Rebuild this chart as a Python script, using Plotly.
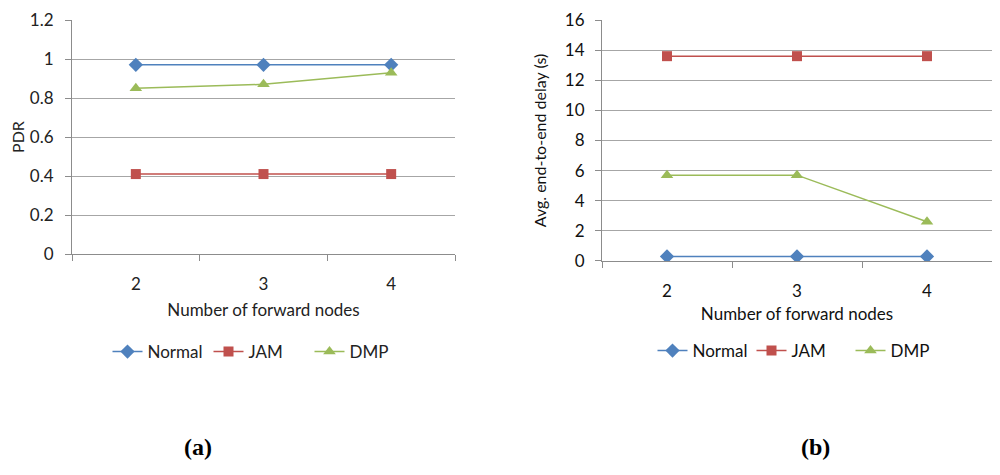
import plotly.graph_objects as go

# data
nodes = ["2", "3", "4"]
pdr_normal = [0.97, 0.97, 0.97]
pdr_jam = [0.41, 0.41, 0.41]
pdr_dmp = [0.85, 0.87, 0.93]
delay_normal = [0.3, 0.3, 0.3]
delay_jam = [13.6, 13.6, 13.6]
delay_dmp = [5.7, 5.7, 2.6]

series = ["Normal", "JAM", "DMP"]
colors = ["#4F81BD", "#C0504D", "#9BBB59"]
symbols = ["diamond", "square", "triangle-up"]
sizes = [11, 10, 11]

font = "Lato, 'Open Sans', sans-serif"
fig = go.Figure()

# left panel (a)
for name, vals, c, s, sz in zip(series, [pdr_normal, pdr_jam, pdr_dmp], colors, symbols, sizes):
    fig.add_trace(go.Scatter(x=nodes, y=vals, name=name, mode="lines+markers",
                             line=dict(color=c, width=1.5),
                             marker=dict(symbol=s, size=sz, color=c),
                             xaxis="x", yaxis="y", legend="legend"))

# right panel (b)
for name, vals, c, s, sz in zip(series, [delay_normal, delay_jam, delay_dmp], colors, symbols, sizes):
    fig.add_trace(go.Scatter(x=nodes, y=vals, name=name, mode="lines+markers",
                             line=dict(color=c, width=1.5),
                             marker=dict(symbol=s, size=sz, color=c),
                             xaxis="x2", yaxis="y2", legend="legend2"))

xcommon = dict(type="category", range=[-0.5, 2.5], showgrid=False, showline=True,
               linecolor="#8c8c8c", linewidth=1, ticks="outside", tickson="boundaries",
               ticklen=6, tickcolor="#8c8c8c", zeroline=False, automargin=False,
               ticklabelstandoff=15)
ycommon = dict(showgrid=True, gridcolor="#a6a6a6", gridwidth=1, showline=True,
               linecolor="#8c8c8c", linewidth=1, ticks="outside", ticklen=6,
               tickcolor="#8c8c8c", zeroline=False, automargin=False,
               ticklabeloverflow="allow", ticklabelstandoff=8)

# the page body adds an 8px margin, so positions below are shifted by 8px
fig.update_layout(
    width=1000, height=475,
    margin=dict(l=0, r=0, t=0, b=0),
    paper_bgcolor="white", plot_bgcolor="white",
    font=dict(family=font, size=17, color="#222222"),
    showlegend=True,
    xaxis=dict(xcommon, domain=[0.064, 0.447], anchor="y",
               title=dict(text="Number of forward nodes", standoff=10, font=dict(size=17)),
               tickfont=dict(size=17)),
    yaxis=dict(ycommon, domain=[0.4821, 0.9747], anchor="x", range=[0, 1.2], dtick=0.2,
               tickformat="~g", tickfont=dict(size=17),
               title=dict(text="PDR", standoff=17, font=dict(size=16))),
    xaxis2=dict(xcommon, domain=[0.594, 0.984], anchor="y2",
                title=dict(text="Number of forward nodes", standoff=7,
                           font=dict(size=17, color="#111111")),
                tickfont=dict(size=17, color="#111111")),
    yaxis2=dict(ycommon, domain=[0.4674, 0.9747], anchor="x2", range=[0, 16], dtick=2,
                tickfont=dict(size=17, color="#111111"), ticklabelstandoff=7,
                title=dict(text="Avg. end-to-end delay (s)", standoff=14,
                           font=dict(size=16, color="#111111"))),
    legend=dict(orientation="h", x=0.251, xanchor="center", y=0.2758, yanchor="middle",
                entrywidth=56, font=dict(size=17), bgcolor="rgba(0,0,0,0)"),
    legend2=dict(orientation="h", x=0.793, xanchor="center", y=0.2779, yanchor="middle",
                 entrywidth=54, font=dict(size=17, color="#111111"), bgcolor="rgba(0,0,0,0)"),
    annotations=[
        dict(text="<b>(a)</b>", x=0.174, y=1 - 454 / 475, xref="paper", yref="paper",
             showarrow=False, font=dict(family="'Liberation Serif', serif", size=24, color="black")),
        dict(text="<b>(b)</b>", x=0.824, y=1 - 454 / 475, xref="paper", yref="paper",
             showarrow=False, font=dict(family="'Liberation Serif', serif", size=24, color="black")),
    ],
)

fig.write_html("out.html")
